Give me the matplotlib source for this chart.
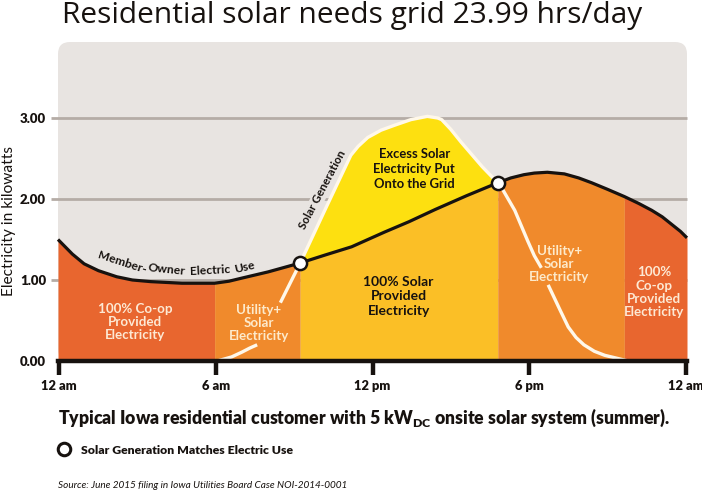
import numpy as np
import matplotlib
matplotlib.use('Agg')
import matplotlib.pyplot as plt
from matplotlib.lines import Line2D
from matplotlib.patches import FancyBboxPatch

# values (hour of day, kW)
use_hours = np.array([-0.05, 0.5, 0.95, 1.5, 2.2, 2.8, 3.5, 4.7, 5.95, 6.5, 6.95, 8.0, 9.23, 10.2, 11.2,
                      12.45, 13.4, 14.4, 15.6, 16.8, 17.3, 17.8, 18.2, 18.7, 19.35, 19.9, 20.4, 21.0,
                      21.65, 22.2, 22.7, 23.1, 23.45, 23.8, 24.05])
use_kw = np.array([1.50, 1.32, 1.20, 1.115, 1.04, 1.00, 0.98, 0.96, 0.96, 0.985, 1.02, 1.10, 1.21, 1.31, 1.41,
                   1.59, 1.72, 1.87, 2.04, 2.20, 2.26, 2.30, 2.32, 2.33, 2.31, 2.26, 2.20, 2.12,
                   2.03, 1.945, 1.86, 1.78, 1.69, 1.60, 1.52])

solar_hours = np.array([6.05, 6.6, 7.0, 7.3, 7.58, 8.47, 9.23, 10.2, 11.17, 11.45, 11.82, 12.33, 12.84,
                        13.47, 14.1, 14.5, 14.65, 15.0, 15.4, 16.2, 16.8, 17.0, 17.45, 17.95, 18.2, 18.47,
                        18.73, 19.2, 19.5, 19.8, 20.1, 20.5, 20.9, 21.8])
solar_kw = np.array([0.0, 0.05, 0.11, 0.16, 0.20, 0.72, 1.21, 1.88, 2.54, 2.65, 2.76, 2.85, 2.91,
                     2.98, 3.02, 3.00, 2.98, 2.86, 2.70, 2.40, 2.20, 2.11, 1.86, 1.48, 1.30, 1.15,
                     0.94, 0.62, 0.42, 0.29, 0.20, 0.12, 0.07, 0.0])

match_hours = [9.23, 16.8]
match_kw = [1.21, 2.20]

x_ticks = [0, 6, 12, 18, 24]
x_labels = ['12 am', '6 am', '12 pm', '6 pm', '12 am']
y_ticks = [0, 1, 2, 3]
y_labels = ['0.00', '1.00', '2.00', '3.00']

RED = '#e8662f'
ORANGE = '#f08a2c'
AMBER = '#fbbf26'
YELLOW = '#fde010'
PANEL = '#e8e4e1'
GRID = '#b5aca6'
INK = '#17120f'
W, H = 702, 491


def fx(x):
    return x / W


def fy(y):
    return 1 - y / H


plt.rcParams['font.family'] = ['Lato', 'DejaVu Sans']
plt.rcParams['mathtext.default'] = 'regular'

fig = plt.figure(figsize=(W / 100, H / 100), dpi=100, facecolor='white')
ax = fig.add_axes([fx(58), fy(361), (687 - 58) / W, (361 - 42) / H])
ax.set_xlim(-0.05, 24.05)
ax.set_ylim(0, (361 - 42) / 81)
ax.patch.set_visible(False)

# rounded panel, in pixels so the corners stay round
panel = FancyBboxPatch((58 + 12, H - 361 + 12), 629 - 24, 319 - 24, boxstyle='round,pad=12,rounding_size=12',
                       fc=PANEL, ec='none', transform=None, zorder=0)
fig.add_artist(panel)

ax.hlines([1, 2, 3], -0.33, 24.05, color=GRID, lw=2, clip_on=False, zorder=1)

# shaded regions
regions = [(-0.05, 5.95, RED), (5.95, 9.23, ORANGE), (9.23, 16.8, AMBER), (16.8, 21.65, ORANGE), (21.65, 24.05, RED)]
for start, end, color in regions:
    m = (use_hours >= start) & (use_hours <= end)
    ax.fill_between(use_hours[m], 0, use_kw[m], color=color, lw=0, zorder=2)

s = (solar_hours >= 9.23) & (solar_hours <= 16.8)
u = (use_hours >= 9.23) & (use_hours <= 16.8)
ax.fill(np.r_[solar_hours[s], use_hours[u][::-1]], np.r_[solar_kw[s], use_kw[u][::-1]], color=YELLOW, lw=0, zorder=2)

# solar line has gaps behind the Utility+ labels
for start, end in [(6.05, 7.58), (8.47, 18.47), (18.73, 21.8)]:
    m = (solar_hours >= start) & (solar_hours <= end)
    ax.plot(solar_hours[m], solar_kw[m], color='#fff8ea', lw=2.4, zorder=3, solid_capstyle='butt')
ax.plot(use_hours, use_kw, color=INK, lw=2.3, zorder=4, clip_on=False, solid_capstyle='butt')
ax.plot(match_hours, match_kw, 'o', ms=9.5, mfc='white', mec=INK, mew=1.8, zorder=5)

for side in ['top', 'left', 'right']:
    ax.spines[side].set_visible(False)
ax.spines['bottom'].set_linewidth(3.2)
ax.spines['bottom'].set_color(INK)
ax.spines['bottom'].set_zorder(6)

ax.set_xticks(x_ticks, x_labels, fontsize=9.3, fontweight='heavy', color=INK)
ax.set_yticks(y_ticks, y_labels, fontsize=9.5, fontweight='heavy', color=INK)
ax.tick_params(axis='x', length=10, width=3.2, color=INK, pad=4)
ax.tick_params(axis='y', length=0, pad=8.6)

# region labels
lab = dict(ha='center', va='center', fontweight='bold', zorder=7)
ax.text(2.9, 0.48, '100% Co-op\nProvided\nElectricity', color='#fde9d4', fontsize=9.6, linespacing=1.12, **lab)
ax.text(7.65, 0.47, 'Utility+\nSolar\nElectricity', color='#fdeacb', fontsize=9.6, linespacing=1.12, **lab)
ax.text(13.0, 0.80, '100% Solar\nProvided\nElectricity', color=INK, fontsize=10, linespacing=1.25, **lab)
ax.text(13.6, 2.37, 'Excess Solar\nElectricity Put\nOnto the Grid', color=INK, fontsize=9.4, linespacing=1.3, **lab)
ax.text(19.15, 1.20, 'Utility+\nSolar\nElectricity', color='#fdeacb', fontsize=9.6, linespacing=1.12, **lab)
ax.text(22.8, 0.85, '100%\nCo-op\nProvided\nElectricity', color='#fde9d4', fontsize=9.6, linespacing=1.12, **lab)

# curved label, one word at a time
word = dict(rotation_mode='anchor', ha='center', va='center', fontsize=8.7, fontweight='bold', color=INK, zorder=7)
ax.text(2.4, 1.22, 'Member-', rotation=-18, **word)
ax.text(4.1, 1.135, 'Owner', rotation=-6, **word)
ax.text(5.78, 1.12, 'Electric', rotation=3, **word)
ax.text(7.08, 1.16, 'Use', rotation=13, **word)
ax.text(10.1, 2.12, 'Solar Generation', rotation=62, rotation_mode='anchor', ha='center', va='center', fontsize=8.4,
        fontweight='bold', color=INK, zorder=7, bbox=dict(fc=PANEL, ec='none', pad=1))

fig.text(fx(62), fy(23), 'Residential solar needs grid 23.99 hrs/day', fontsize=21.5, color=INK, family='Open Sans')
fig.text(fx(9), fy(221), 'Electricity in kilowatts', rotation=90, ha='center', va='center', fontsize=11.2, color=INK)
fig.text(fx(58), fy(424), 'Typical Iowa residential customer with 5 kW$_{DC}$ onsite solar system (summer).', fontsize=12.7, fontweight='heavy', color=INK)
fig.text(fx(58), fy(488), 'Source: June 2015 filing in Iowa Utilities Board Case NOI-2014-0001', fontsize=7.2, style='italic', color=INK)

handle = Line2D([], [], marker='o', ls='none', ms=9, mfc='white', mec=INK, mew=2.2)
fig.legend([handle], ['Solar Generation Matches Electric Use'], loc='center left', bbox_to_anchor=(fx(46), fy(450)),
           frameon=False, prop=dict(family='Lato', weight='heavy', size=8.8), labelcolor=INK, handletextpad=0.4, borderpad=0)

fig.savefig('out.png', dpi=100)
